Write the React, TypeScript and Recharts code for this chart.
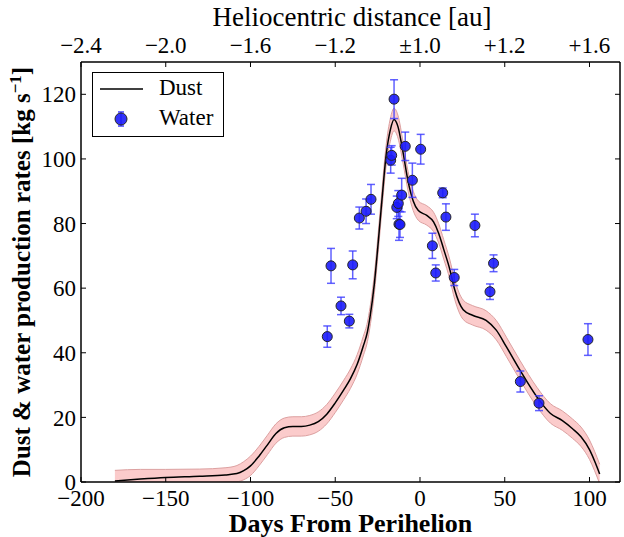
import React from 'react';
import { ComposedChart, Line, Area, Scatter, ErrorBar, XAxis, YAxis, Label } from 'recharts';

// dust production curve (days from perihelion -> kg/s) and its uncertainty band half-width
const dustDays = [-180, -165, -150, -130, -115, -108, -104, -100, -95, -90, -85, -80, -75, -70, -65, -60, -55, -50, -45, -41, -37, -33.5, -31, -29.5, -27, -24.5, -22.5, -20, -17.5, -15.3, -13, -10, -7, -4, -1, 4, 8, 11, 14, 17.5, 20.5, 25.5, 31, 39, 45, 51, 59, 69, 77, 84, 90, 95, 100, 103, 106];
const dustRates = [0.3, 0.9, 1.4, 1.8, 2.2, 2.6, 3.5, 5, 8, 11.5, 15, 16.8, 17.2, 17.2, 17.6, 18.7, 21, 24.5, 28.5, 32, 36.5, 42, 46.5, 51, 61, 75, 87, 101, 109, 112.2, 110, 102, 93, 87, 84, 82.5, 80.5, 77, 72, 66, 59.5, 53.3, 51.6, 50, 47, 41.8, 34.6, 26.3, 21.2, 19, 16.5, 14, 10, 6.5, 2.5];
const dustSpread = [3.3, 3, 2.5, 2.2, 2.2, 2.5, 2.8, 3, 3, 3, 3, 3, 3, 3, 3, 3, 3, 3, 3, 3, 3, 3, 3, 3, 3, 3, 3, 3.2, 3.5, 3.5, 3.5, 3.3, 3, 3, 3, 3, 3, 3, 3, 3, 3, 3, 3, 3, 3, 3, 3, 3, 3, 3, 3, 3, 3, 3, 3];

// water measurements with 1-sigma errors
const waterDays = [-54.7, -52.5, -46.6, -41.7, -39.7, -35.8, -31.8, -28.9, -17.3, -16.7, -15.3, -13.7, -12.8, -12.4, -11.8, -10.8, -8.7, -4.5, 0.4, 7.3, 9.3, 13.4, 15.3, 20.2, 32.4, 41.3, 43.4, 59.2, 70.2, 99.1];
const waterRates = [45.0, 66.9, 54.5, 49.8, 67.2, 81.7, 83.8, 87.5, 99.6, 101.1, 118.5, 85.0, 86.2, 79.8, 79.7, 88.8, 103.9, 93.4, 103.0, 73.1, 64.7, 89.5, 82.0, 63.3, 79.4, 58.9, 67.7, 31.1, 24.4, 44.1];
const waterErrors = [3.3, 5.4, 2.7, 2.1, 4.3, 3.4, 3.8, 4.6, 4, 3, 6, 3.5, 4, 5, 4, 5.2, 4.4, 5.3, 4.6, 3.9, 2.5, 1.5, 4.1, 2.5, 3.5, 2.4, 2.6, 3.25, 2.3, 4.9];

const dayTicks = [-200, -150, -100, -50, 0, 50, 100];
const distanceLabels = ['\u22122.4', '\u22122.0', '\u22121.6', '\u22121.2', '\u00b11.0', '+1.2', '+1.6'];
const rateTicks = [0, 20, 40, 60, 80, 100, 120];

const dustData = dustDays.map((day, i) => ({
  day,
  rate: dustRates[i],
  band: [dustRates[i] - dustSpread[i], dustRates[i] + dustSpread[i]]
}));
const waterData = waterDays.map((day, i) => ({ day, rate: waterRates[i], err: waterErrors[i] }));

const FONT = '"Liberation Serif", "DejaVu Serif", serif';
const tickStyle = { fontFamily: FONT, fontSize: 23, fill: '#000' };
const minus = (v: number) => String(v).replace('-', '\u2212');

const WaterDot = (props: any) => {
  const { cx, cy } = props;
  if (cx == null || cy == null) return null;
  return <circle cx={cx} cy={cy} r={5} fill="#1c1cfa" fillOpacity={0.9} stroke="#262626" strokeWidth={1} />;
};

const LegendBox = () => <div style={{
  position: 'absolute',
  left: 92,
  top: 72,
  border: '1px solid #000',
  background: '#fff',
  width: 130,
  height: 63,
  fontFamily: FONT,
  fontSize: 23
}}>
    <svg width={60} height={63} style={{ position: 'absolute', left: 0, top: 0 }}>
      <line x1={7} x2={50} y1={16} y2={16} stroke="#000" strokeWidth={1.5} />
      <line x1={28} x2={28} y1={39} y2={53} stroke="#4040ff" strokeWidth={1.5} />
      <line x1={25} x2={31} y1={39} y2={39} stroke="#4040ff" strokeWidth={1.5} />
      <line x1={25} x2={31} y1={53} y2={53} stroke="#4040ff" strokeWidth={1.5} />
      <circle cx={28} cy={46} r={6} fill="#1c1cfa" fillOpacity={0.9} stroke="#262626" strokeWidth={1} />
    </svg>
    <div style={{ position: 'absolute', left: 66, top: 2, lineHeight: '26px' }}>Dust</div>
    <div style={{ position: 'absolute', left: 66, top: 32, lineHeight: '26px' }}>Water</div>
  </div>;

const App = () => {
  return <div style={{ position: 'absolute', left: 0, top: 0, width: 624, height: 537, background: '#fff' }}>
      <ComposedChart width={624} height={537} margin={{ top: 0, right: 0, bottom: 0, left: 0 }}>
        <XAxis dataKey="day" type="number" domain={[-200, 118]} allowDataOverflow ticks={dayTicks}
          tickFormatter={minus} height={55} tickSize={-5} tickMargin={13} tick={tickStyle}
          axisLine={{ stroke: '#000', strokeWidth: 1.5 }} tickLine={{ stroke: '#000' }}>
          <Label content={() => <text x={350.5} y={532} textAnchor="middle" fontFamily={FONT} fontSize={26} fontWeight="bold">Days From Perihelion</text>} />
        </XAxis>
        <XAxis xAxisId="top" orientation="top" dataKey="day" type="number" domain={[-200, 118]} allowDataOverflow
          ticks={dayTicks} tickFormatter={(v: number) => distanceLabels[dayTicks.indexOf(v)]} height={62}
          tickSize={-5} tickMargin={14} tick={tickStyle} axisLine={{ stroke: '#000', strokeWidth: 1.5 }} tickLine={{ stroke: '#000' }}>
          <Label content={() => <text x={352} y={26} textAnchor="middle" fontFamily={FONT} fontSize={27}>Heliocentric distance [au]</text>} />
        </XAxis>
        <YAxis type="number" domain={[0, 130]} allowDataOverflow ticks={rateTicks} width={81}
          tickSize={-5} tickMargin={10} tick={tickStyle} axisLine={{ stroke: '#000', strokeWidth: 1.5 }} tickLine={{ stroke: '#000' }}>
          <Label content={() => <text x={30} y={272} transform="rotate(-90 30 272)" textAnchor="middle" fontFamily={FONT} fontSize={25} fontWeight="bold">
                Dust &amp; water production rates [kg s<tspan dy={-9} fontSize={17}>{'\u22121'}</tspan><tspan dy={9}>]</tspan>
              </text>} />
        </YAxis>
        <YAxis yAxisId="right" orientation="right" type="number" domain={[0, 130]} allowDataOverflow ticks={rateTicks} width={4}
          tickSize={-5} tickFormatter={() => ''} axisLine={{ stroke: '#000', strokeWidth: 1.5 }} tickLine={{ stroke: '#000' }} />
        <Area data={dustData} dataKey="band" type="monotone" fill="#f9b9b9" fillOpacity={0.75} stroke="#dca0a0" strokeWidth={1} isAnimationActive={false} />
        <Line data={dustData} dataKey="rate" type="monotone" stroke="#000" strokeWidth={1.5} dot={false} activeDot={false} isAnimationActive={false} />
        <Scatter data={waterData} dataKey="rate" shape={WaterDot} fill="#1c1cfa" isAnimationActive={false}>
          <ErrorBar dataKey="err" direction="y" width={4} stroke="#3a3aff" strokeOpacity={0.8} strokeWidth={1.5} />
        </Scatter>
      </ComposedChart>
      <LegendBox />
    </div>;
};

export default App;
